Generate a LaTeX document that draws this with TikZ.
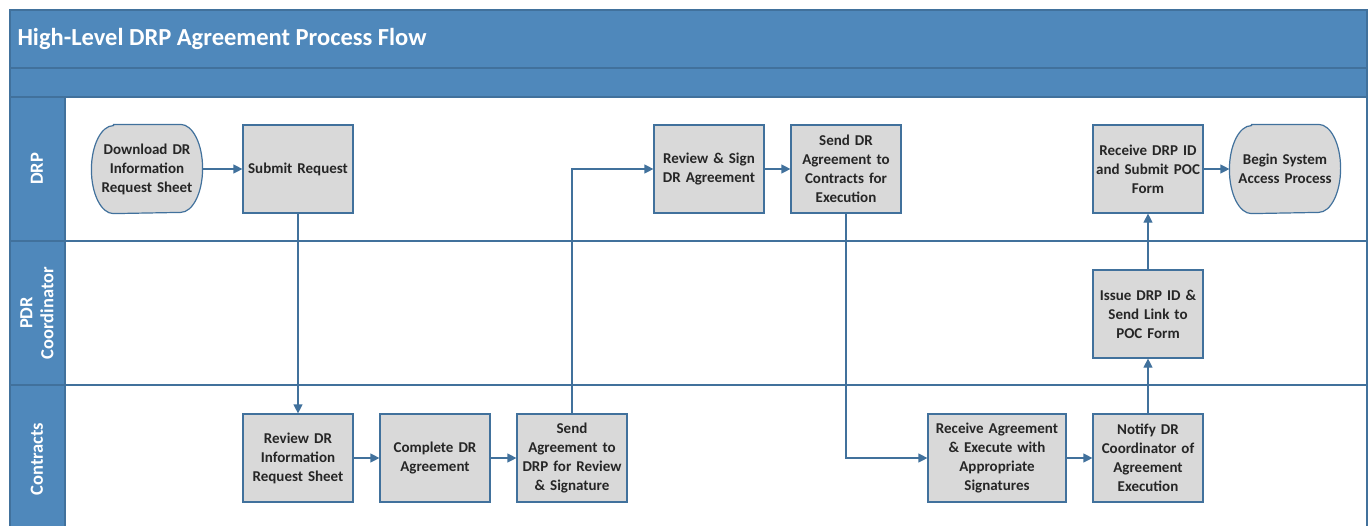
\documentclass[tikz,border=0pt]{standalone}
\usepackage{fontspec}
\setmainfont{Carlito}
\usetikzlibrary{arrows.meta,positioning,backgrounds}
\definecolor{laneblue}{HTML}{4F88BB}
\definecolor{edgeblue}{HTML}{41719C}
\definecolor{boxgray}{HTML}{D9D9D9}
\definecolor{textgray}{HTML}{262626}

\begin{document}
\begin{tikzpicture}[
  x=1pt, y=-1pt,
  block/.style={rectangle, draw=edgeblue, line width=1.2pt, fill=boxgray, minimum width=110pt, minimum height=88pt, text width=108pt, inner sep=0pt, align=center, text=textgray, font=\bfseries\fontsize{15}{19}\selectfont},
  term/.style={block, draw=none, fill=none},
  lane/.style={rotate=90, text=white, align=center, font=\bfseries\fontsize{18.5}{21}\selectfont},
  frame/.style={draw=edgeblue, line width=1.2pt},
  arrow/.style={-{Triangle[length=9pt,width=9pt]}, line width=1.2pt, draw=edgeblue},
  node distance=137pt
]
\useasboundingbox (0,0) rectangle (1372,525);

% Pool and lanes
\fill[laneblue] (10,10) rectangle (1367,97);
\fill[laneblue] (10,97) rectangle (65,530);
\draw[frame] (10,530) -- (10,10) -- (1367,10) -- (1367,530);
\draw[frame] (10,68) -- (1367,68);
\draw[frame] (10,97) -- (1367,97);
\draw[frame] (65,97) -- (65,530);
\draw[frame] (10,241) -- (1367,241);
\draw[frame] (10,385) -- (1367,385);

\node[anchor=west, text=white, font=\bfseries\fontsize{24.5}{28}\selectfont] (title) at (14,39) {High-Level DRP Agreement Process Flow};
\node[lane] (lanedrp) at (37,169) {DRP};
\node[lane] (lanepdr) at (37,313) {PDR\\Coordinator};
\node[lane] (lanecontracts) at (37,459) {Contracts};

% DRP
\node[term] (download) at (147,169) {Download DR\\Information\\Request Sheet};
\node[block, right of=download, node distance=151pt] (submit) {Submit Request};

% Contracts
\node[block, below of=submit, node distance=289pt] (reviewsheet) {Review DR\\Information\\Request Sheet};
\node[block, right of=reviewsheet] (complete) {Complete DR\\Agreement};
\node[block, right of=complete] (sendtodrp) {Send\\Agreement to\\DRP for Review\\\& Signature};

% DRP again
\node[block] (reviewsign) at (709,169) {Review \& Sign\\DR Agreement};
\node[block, right of=reviewsign] (sendtocontracts) {Send DR\\Agreement to\\Contracts for\\Execution};

% Contracts again
\node[block, minimum width=138pt, text width=136pt] (execute) at (997,458) {Receive Agreement\\\& Execute with\\Appropriate\\Signatures};
\node[block] (notify) at (1148,458) {Notify DR\\Coordinator of\\Agreement\\Execution};

% PDR Coordinator and DRP
\node[block, above of=notify, node distance=144pt] (issue) {Issue DRP ID \&\\Send Link to\\POC Form};
\node[block, above of=issue, node distance=145pt] (receiveid) {Receive DRP ID\\and Submit POC\\Form};
\node[term, right of=receiveid] (begin) {Begin System\\Access Process};

% Terminator outlines
\begin{scope}[on background layer]
  \foreach \t in {download, begin}
    \draw[edgeblue, line width=1.2pt, fill=boxgray] ([xshift=22pt]\t.north west) -- ([xshift=-22pt]\t.north east)
      arc[start angle=90, end angle=-90, x radius=22pt, y radius=44pt] -- ([xshift=22pt]\t.south west)
      arc[start angle=270, end angle=90, x radius=22pt, y radius=44pt] -- cycle;
\end{scope}

% Arrows
\draw[arrow] (download) -- (submit);
\draw[arrow] (submit) -- (reviewsheet);
\draw[arrow] (reviewsheet) -- (complete);
\draw[arrow] (complete) -- (sendtodrp);
\draw[arrow] (sendtodrp) |- (reviewsign);
\draw[arrow] (reviewsign) -- (sendtocontracts);
\draw[arrow] (sendtocontracts) |- (execute);
\draw[arrow] (execute) -- (notify);
\draw[arrow] (notify) -- (issue);
\draw[arrow] (issue) -- (receiveid);
\draw[arrow] (receiveid) -- (begin);

\end{tikzpicture}
\end{document}
